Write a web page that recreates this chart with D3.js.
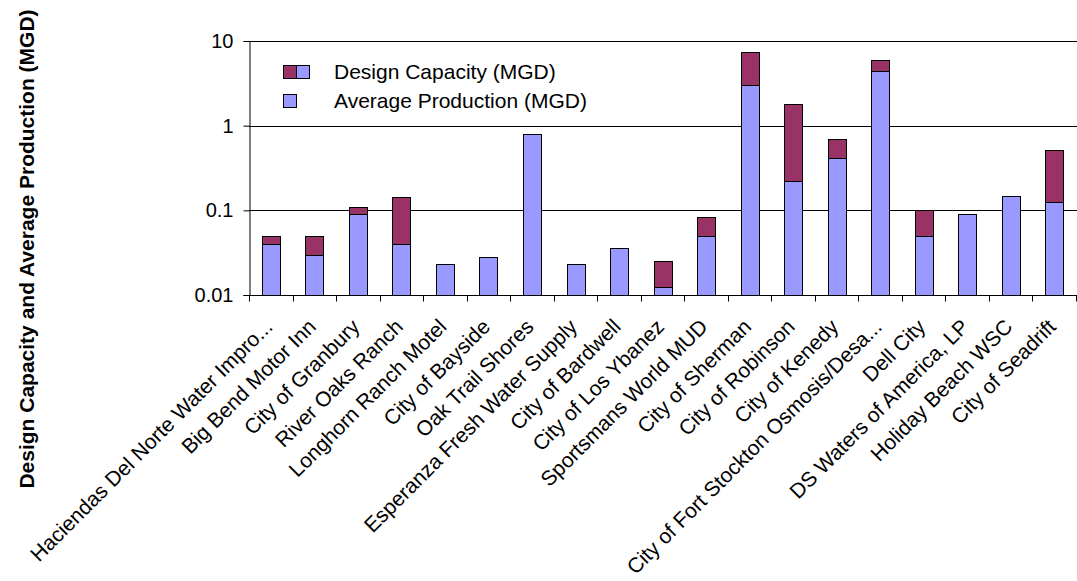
<!DOCTYPE html>
<html>
<head>
<meta charset="utf-8">
<script src="https://cdn.jsdelivr.net/npm/d3@7"></script>
<style>
  body { margin: 0; background: #fff; }
  text { font-family: Arial, "Liberation Sans", sans-serif; fill: #000; }
</style>
</head>
<body>
<div id="chart"></div>
<script>
var categories = [
    "Haciendas Del Norte Water Impro...",
    "Big Bend Motor Inn",
    "City of Granbury",
    "River Oaks Ranch",
    "Longhorn Ranch Motel",
    "City of Bayside",
    "Oak Trail Shores",
    "Esperanza Fresh Water Supply",
    "City of Bardwell",
    "City of Los Ybanez",
    "Sportsmans World MUD",
    "City of Sherman",
    "City of Robinson",
    "City of Kenedy",
    "City of Fort Stockton Osmosis/Desa...",
    "Dell City",
    "DS Waters of America, LP",
    "Holiday Beach WSC",
    "City of Seadrift"
];

// design capacity (null where no separate value is shown)
var designCapacity = [0.05, 0.05, 0.11, 0.142, null, null, null, null, null, 0.025,
    0.083, 7.5, 1.78, 0.7, 6.0, 0.1, null, null, 0.52];

var avgProduction = [0.04, 0.03, 0.09, 0.04, 0.023, 0.028, 0.8, 0.023, 0.036, 0.0123,
    0.05, 3.0, 0.22, 0.41, 4.45, 0.05, 0.09, 0.147, 0.126];

var yTicks = [0.01, 0.1, 1, 10];
var legendLabels = ["Design Capacity (MGD)", "Average Production (MGD)"];
var yTitle = "Design Capacity and Average Production (MGD)";

var width = 1077, height = 581;
var margin = {top: 41, right: 1, bottom: 286, left: 249};

var capColor = "#993366", avgColor = "#9999ff";

var svg = d3.select("#chart")
    .append("svg")
    .attr("width", width)
    .attr("height", height);

var x = d3.scaleBand()
    .domain(categories)
    .range([margin.left, width - margin.right])
    .paddingInner(0.59)
    .paddingOuter(0.295);

var xTicks = d3.scaleBand()
    .domain(categories)
    .range([margin.left, width - margin.right]);

var y = d3.scaleLog()
    .domain([0.01, 10])
    .range([height - margin.bottom, margin.top]);

var y0 = y(0.01);

// gridlines
svg.append("g")
    .selectAll("line")
    .data(yTicks.filter(function(d) { return d > 0.01; }))
    .enter()
    .append("line")
    .attr("x1", margin.left)
    .attr("x2", width)
    .attr("y1", function(d) { return Math.round(y(d)) + 0.5; })
    .attr("y2", function(d) { return Math.round(y(d)) + 0.5; })
    .attr("stroke", "#000")
    .attr("stroke-width", 1);

// design capacity bars
svg.append("g")
    .selectAll("rect")
    .data(categories.map(function(c, i) { return {c: c, v: designCapacity[i]}; })
        .filter(function(d) { return d.v != null; }))
    .enter()
    .append("rect")
    .attr("x", function(d) { return Math.round(x(d.c)) + 0.5; })
    .attr("width", Math.round(x.bandwidth()))
    .attr("y", function(d) { return Math.round(y(d.v)) + 0.5; })
    .attr("height", function(d) { return Math.round(y0) - Math.round(y(d.v)); })
    .attr("fill", capColor)
    .attr("stroke", "#000");

// average production bars
svg.append("g")
    .selectAll("rect")
    .data(categories.map(function(c, i) { return {c: c, v: avgProduction[i]}; }))
    .enter()
    .append("rect")
    .attr("x", function(d) { return Math.round(x(d.c)) + 0.5; })
    .attr("width", Math.round(x.bandwidth()))
    .attr("y", function(d) { return Math.round(y(d.v)) + 0.5; })
    .attr("height", function(d) { return Math.round(y0) - Math.round(y(d.v)); })
    .attr("fill", avgColor)
    .attr("stroke", "#000");

// y axis
var yAxis = svg.append("g")
    .attr("transform", "translate(" + (margin.left + 0.5) + ",0)")
    .call(d3.axisLeft(y).tickValues(yTicks).tickFormat(function(d) { return String(d); })
        .tickSize(6).tickPadding(10));
yAxis.select(".domain").attr("stroke", "#000");
yAxis.selectAll("text")
    .style("font-size", "20px")
    .attr("font-family", null);

// x axis
var xAxis = svg.append("g")
    .attr("transform", "translate(0," + (Math.round(y0) + 0.5) + ")");
xAxis.append("line")
    .attr("x1", margin.left)
    .attr("x2", width)
    .attr("stroke", "#000");
xAxis.selectAll(".tick")
    .data(categories.concat(["end"]))
    .enter()
    .append("line")
    .attr("x1", function(d, i) { return Math.round(margin.left + i * xTicks.step()) + 0.5; })
    .attr("x2", function(d, i) { return Math.round(margin.left + i * xTicks.step()) + 0.5; })
    .attr("y1", 0)
    .attr("y2", 6)
    .attr("stroke", "#000");

svg.append("g")
    .selectAll("text")
    .data(categories)
    .enter()
    .append("text")
    .attr("transform", function(d) {
        return "translate(" + (x(d) + x.bandwidth() / 2 + 3) + "," + (y0 + 33) + ") rotate(-45)";
    })
    .style("text-anchor", "end")
    .style("font-size", "21px")
    .text(function(d) { return d; });

// y title
svg.append("text")
    .attr("transform", "translate(34," + 249 + ") rotate(-90)")
    .style("text-anchor", "middle")
    .style("font-size", "21px")
    .style("font-weight", "bold")
    .text(yTitle);

// legend
var legend = svg.append("g");
legend.append("rect")
    .attr("x", 283.5).attr("y", 65.5).attr("width", 13).attr("height", 13)
    .attr("fill", capColor).attr("stroke", "#000");
legend.append("rect")
    .attr("x", 296.5).attr("y", 65.5).attr("width", 13).attr("height", 13)
    .attr("fill", avgColor).attr("stroke", "#000");
legend.append("rect")
    .attr("x", 283.5).attr("y", 94.5).attr("width", 13).attr("height", 13)
    .attr("fill", avgColor).attr("stroke", "#000");
legend.selectAll(".lt")
    .data(legendLabels)
    .enter()
    .append("text")
    .attr("x", 334)
    .attr("y", function(d, i) { return 79 + i * 28.5; })
    .style("font-size", "21px")
    .text(function(d) { return d; });
</script>
</body>
</html>
